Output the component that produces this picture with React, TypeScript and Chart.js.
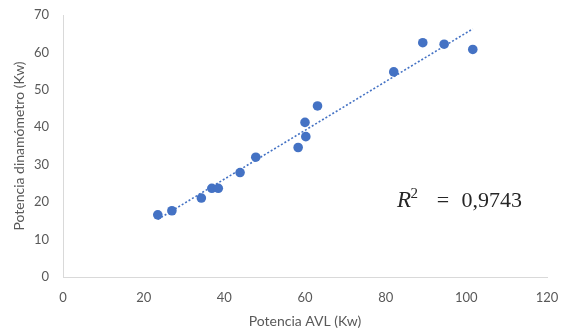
import React, { useEffect, useRef } from "react";
import { Chart, registerables } from "chart.js";

Chart.register(...registerables);

// Data
const potenciaAVL = [23.5, 27.0, 34.3, 36.9, 38.5, 43.9, 47.8, 58.3, 60.0, 60.2, 63.1, 82.0, 89.2, 94.5, 101.6];
const potenciaDinamometro = [16.6, 17.7, 21.1, 23.7, 23.7, 27.9, 32.0, 34.6, 41.3, 37.5, 45.7, 54.8, 62.6, 62.2, 60.8];
const xAxisRange = [0, 120];
const yAxisRange = [0, 70];
const xTitle = "Potencia AVL (Kw)";
const yTitle = "Potencia dinamómetro (Kw)";
const rSquaredText = "0,9743";
const rSquaredAnchor = [82.8, 18.6]; // data coords of the label's left baseline

function linearFit(xs: number[], ys: number[]) {
  const n = xs.length;
  const mx = xs.reduce((a, b) => a + b, 0) / n;
  const my = ys.reduce((a, b) => a + b, 0) / n;
  let sxy = 0, sxx = 0;
  for (let i = 0; i < n; i++) {
    sxy += (xs[i] - mx) * (ys[i] - my);
    sxx += (xs[i] - mx) * (xs[i] - mx);
  }
  const slope = sxy / sxx;
  return { slope, intercept: my - slope * mx };
}

const GRAY = "#595959";
const FONT = "Lato, 'Open Sans', sans-serif";
const BLUE = "#4472C4";

export default function App() {
  const ref = useRef<HTMLCanvasElement | null>(null);

  useEffect(() => {
    if (!ref.current) return;
    const fit = linearFit(potenciaAVL, potenciaDinamometro);
    const xMin = Math.min(...potenciaAVL);
    const xMax = Math.max(...potenciaAVL);
    const trend = [
      { x: xMin, y: fit.slope * xMin + fit.intercept },
      { x: xMax, y: fit.slope * xMax + fit.intercept },
    ];

    const r2Plugin = {
      id: "r2label",
      afterDatasetsDraw(chart: any) {
        const { ctx, scales } = chart;
        const x0 = scales.x.getPixelForValue(rSquaredAnchor[0]);
        const y0 = scales.y.getPixelForValue(rSquaredAnchor[1]);
        ctx.save();
        ctx.fillStyle = "#262626";
        ctx.textBaseline = "alphabetic";
        ctx.textAlign = "left";
        ctx.font = "italic 23px 'Liberation Serif', serif";
        ctx.fillText("R", x0, y0);
        ctx.font = "15px 'Liberation Serif', serif";
        ctx.fillText("2", x0 + 13.5, y0 - 9);
        ctx.font = "22px 'Liberation Serif', serif";
        ctx.textAlign = "center";
        ctx.fillText("=", x0 + 46, y0);
        ctx.textAlign = "left";
        ctx.fillText(rSquaredText, x0 + 64.5, y0);
        ctx.restore();
      },
    };

    const chart = new Chart(ref.current, {
      type: "scatter",
      data: {
        datasets: [
          {
            label: "Datos",
            data: potenciaAVL.map((x, i) => ({ x, y: potenciaDinamometro[i] })),
            backgroundColor: BLUE,
            borderColor: BLUE,
            borderWidth: 0,
            pointRadius: 4.8,
            order: 1,
          },
          {
            type: "line",
            label: "Tendencia",
            data: trend,
            borderColor: BLUE,
            borderWidth: 1.6,
            borderDash: [2, 2],
            pointRadius: 0,
            fill: false,
            order: 2,
          } as any,
        ],
      },
      options: {
        responsive: false,
        animation: false,
        layout: { padding: { top: 15, right: 14, left: 0, bottom: 0 } },
        plugins: { legend: { display: false }, tooltip: { enabled: false } },
        scales: {
          x: {
            type: "linear",
            min: xAxisRange[0],
            max: xAxisRange[1],
            grid: { display: false, drawTicks: false },
            border: { display: true, color: "#d9d9d9", width: 1 },
            ticks: { stepSize: 20, color: GRAY, font: { family: FONT, size: 13 }, padding: 13 },
            title: {
              display: true,
              text: xTitle,
              color: GRAY,
              font: { family: FONT, size: 14 },
              padding: { top: 0, bottom: 4 },
            },
            afterFit: (s: any) => {
              s.height = 57;
              s.paddingLeft = 0;
              s.paddingRight = 0;
            },
          },
          y: {
            type: "linear",
            min: yAxisRange[0],
            max: yAxisRange[1],
            grid: { display: false, drawTicks: false },
            border: { display: true, color: "#d9d9d9", width: 1 },
            ticks: { stepSize: 10, color: GRAY, font: { family: FONT, size: 13 }, padding: 14 },
            title: {
              display: true,
              text: yTitle,
              color: GRAY,
              font: { family: FONT, size: 14 },
              padding: { top: 11, bottom: 0 },
            },
            afterFit: (s: any) => {
              s.width = 63;
              s.paddingTop = 0;
              s.paddingBottom = 0;
            },
          },
        },
      },
      plugins: [r2Plugin],
    });
    return () => chart.destroy();
  }, []);

  return (
    <div style={{ position: "fixed", left: 0, top: 0, width: 561, height: 334, background: "#fff" }}>
      <canvas ref={ref} width={561} height={334} style={{ width: 561, height: 334, display: "block" }} />
    </div>
  );
}
